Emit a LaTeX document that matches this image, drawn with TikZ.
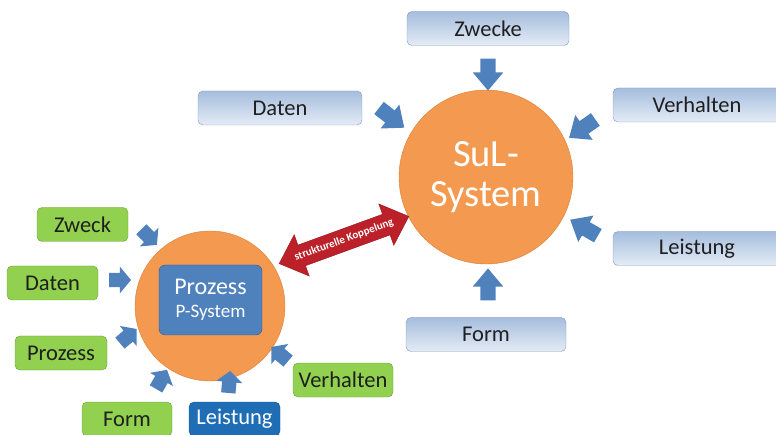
\documentclass[tikz,border=0pt]{standalone}
\usepackage{fontspec}
\setmainfont{Carlito}
\usetikzlibrary{shapes.arrows}
\definecolor{lbtop}{HTML}{A5BDDD}
\definecolor{lbbot}{HTML}{E4ECF6}
\definecolor{lbline}{HTML}{7F98C0}
\definecolor{ablue}{HTML}{4F81BD}
\definecolor{korange}{HTML}{F39A50}
\definecolor{kordark}{HTML}{DC7E36}
\definecolor{kgreen}{HTML}{92D050}
\definecolor{kgline}{HTML}{6E9E3E}
\definecolor{kdblue}{HTML}{1F6DB5}
\definecolor{kred}{HTML}{BC2028}

\begin{document}
\begin{tikzpicture}[x=1pt,y=-1pt,
  lbl/.style={font=\fontsize{22.5}{26}\selectfont,text=black!88},
  sbox/.style={lbl,draw=lbline,rounded corners=5pt,top color=lbtop,bottom color=lbbot,minimum height=34pt},
  gbox/.style={lbl,draw=kgline,fill=kgreen,rounded corners=5pt,minimum width=91pt,minimum height=34pt},
  bigarr/.style={single arrow,fill=ablue,inner xsep=0pt,inner ysep=7.5pt,minimum height=32pt,minimum width=30pt,
    single arrow head extend=7.5pt,single arrow tip angle=80},
  smallarr/.style={single arrow,fill=ablue,inner xsep=0pt,inner ysep=7pt,minimum height=22pt,minimum width=26pt,
    single arrow head extend=6pt,single arrow tip angle=100}]
\useasboundingbox (0,0) rectangle (776,435);

\node [circle,fill=korange,draw=kordark,minimum size=174pt,align=center,text=white,
  font=\fontsize{38.5}{40}\selectfont] (sul) at (486,177) {SuL-\\System};
\node [circle,fill=korange,draw=kordark,minimum size=150pt] (proz) at (210,306) {};
\node [fill=ablue,draw=ablue!70!black,rounded corners=6pt,minimum width=103pt,minimum height=70pt,
  align=center,text=white,font=\fontsize{24}{23}\selectfont] (psys) at (210.5,300)
  {Prozess\\{\fontsize{19}{23}\selectfont P-System}};

\node [sbox,minimum width=162pt] (zwecke) at (488,28.5) {Zwecke};
\node [sbox,minimum width=164pt] (daten) at (280,108) {Daten};
\node [sbox,minimum width=168pt] (verhalten) at (697,105) {Verhalten};
\node [sbox,minimum width=168pt] (leistung) at (697,248.5) {Leistung};
\node [sbox,minimum width=160pt] (form) at (486,334.5) {Form};

\node [bigarr,rotate=-90] (azwecke) at (488,70) {};
\node [bigarr,rotate=-38] (adaten) at (388,115) {};
\node [bigarr,rotate=-145] (averhalten) at (586,126) {};
\node [bigarr,rotate=150] (aleistung) at (588,230) {};
\node [bigarr,rotate=90] (aform) at (488,289) {};

\node [gbox] (pzweck) at (82.5,224.5) {Zweck};
\node [gbox] (pdaten) at (52.5,283) {Daten};
\node [gbox,minimum width=92pt] (pprozess) at (61,353) {Prozess};
\node [gbox,minimum width=90pt] (pform) at (127,419) {Form};
\node [gbox,fill=kdblue,draw=kdblue!80!black,text=white] (pleistung) at (234.5,419) {Leistung};
\node [gbox,minimum width=100pt] (pverhalten) at (343,380) {Verhalten};

\node [smallarr,rotate=-45] (bzweck) at (147,235) {};
\node [smallarr] (bdaten) at (117,280) {};
\node [smallarr,rotate=40] (bprozess) at (126,338) {};
\node [smallarr,rotate=60] (bform) at (160,382) {};
\node [smallarr,rotate=85] (bleistung) at (229,385) {};
\node [smallarr,rotate=140] (bverhalten) at (282,356) {};

\node [double arrow,fill=kred,draw=kred!80!black,rotate=20,inner xsep=0pt,inner ysep=6pt,minimum height=138pt,
  minimum width=44pt,double arrow head extend=11pt,double arrow tip angle=85,text=white,
  font=\bfseries\fontsize{11}{12}\selectfont] (kopplung) at (344,240) {strukturelle Koppelung};
\end{tikzpicture}
\end{document}
